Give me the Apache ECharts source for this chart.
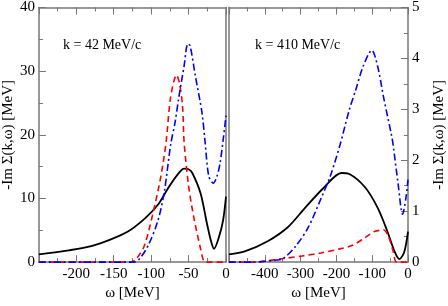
<!DOCTYPE html>
<html><head><meta charset="utf-8">
<script src="https://cdn.jsdelivr.net/npm/echarts@6/dist/echarts.min.js"></script>
<style>html,body{margin:0;padding:0;background:#fff}#c{width:448px;height:306px}</style>
</head><body><div id="c"></div>
<script>
// Left panel: k = 42 MeV/c  [omega (MeV), -Im Sigma (MeV)]
const leftSolid = [[-250,1.2],[-210,1.85],[-180,2.5],[-153,3.6],[-131,4.8],[-109,6.8],[-91,9.0],[-78,11.5],[-65,13.7],[-56,14.7],[-50,14.6],[-45,14.0],[-34,10.8],[-25,5.8],[-20,3.3],[-16,2.1],[-10,3.7],[-4,6.5],[0,10.3]];
const leftDashed = [[-250,0],[-127,0],[-120,0.5],[-109,2.6],[-96,8.5],[-87,13.5],[-80,18.9],[-74,25.9],[-66,29.4],[-62,28.0],[-58,24.4],[-56,18.9],[-50,12],[-43,7],[-34,2.1],[-30,0.2],[-27,0],[0,0]];
const leftDashDot = [[-250,0],[-123,0],[-115,0.6],[-104,2.6],[-91,6.5],[-82.5,11],[-74,18.4],[-68,22],[-63,25.9],[-56,30.8],[-51,34.3],[-48,34],[-41,29.3],[-32,23.4],[-28,18.9],[-23,13.5],[-17,12.4],[-12,13.5],[-8,15.5],[-4,19],[0,23]];
// Right panel: k = 410 MeV/c
const rightSolid = [[-500,0.15],[-456,0.21],[-392,0.41],[-335,0.69],[-287,1.07],[-234,1.47],[-186,1.75],[-164,1.73],[-120,1.47],[-85,1.07],[-59,0.63],[-37,0.2],[-24,0.06],[-10.5,0.2],[0,0.6]];
const rightDashed = [[-500,0],[-430,0],[-410,0.01],[-348,0.07],[-296,0.12],[-243,0.18],[-190,0.26],[-155,0.33],[-120,0.48],[-94,0.6],[-68,0.63],[-55,0.51],[-41,0.2],[-32,0],[0,0]];
const rightDashDot = [[-500,0],[-437,0],[-366,0.04],[-348,0.07],[-313,0.32],[-278,0.69],[-243,1.25],[-217,1.69],[-190,2.3],[-164,2.99],[-147,3.36],[-125,3.85],[-101,4.16],[-85,3.85],[-68,3.23],[-46,2.49],[-41.5,2.3],[-28,1.56],[-15,0.94],[-6,1.25],[0,1.62]];
const labelLeft = 'k = 42 MeV/c';
const labelRight = 'k = 410 MeV/c';
const yTitle = '-Im Σ(k,ω) [MeV]';
const xTitle = 'ω [MeV]';

const FONT = 'Liberation Serif';
const AX = '#777';
function xAx(gi, min, interval, pos, labels) {
  return {
    type:'value', gridIndex:gi, position:pos, min:min, max:0, interval:interval,
    name: labels ? xTitle : '', nameLocation:'middle', nameGap:22,
    nameTextStyle:{fontFamily:FONT,fontSize:15,color:'#000'},
    axisLine:{show:true,onZero:false,lineStyle:{color:AX,width:1.5}},
    axisTick:{show:true,inside:true,length:7,lineStyle:{color:AX,width:1}},
    minorTick:{show:true,splitNumber:2,length:4,lineStyle:{color:AX,width:1}},
    splitLine:{show:false},
    axisLabel:{show:labels,showMinLabel:false,fontFamily:FONT,fontSize:15,color:'#000',margin:4},
  };
}
function yAx(gi, max, interval, pos, labels, ticks, gap) {
  return {
    type:'value', gridIndex:gi, position:pos, min:0, max:max, interval:interval,
    name: labels ? yTitle : '', nameLocation:'middle', nameGap: gap, nameRotate:90,
    nameTextStyle:{fontFamily:FONT,fontSize:15,color:'#000'},
    axisLine:{show:true,onZero:false,lineStyle:{color:AX,width:1.5}},
    axisTick:{show:ticks,inside:true,length:7,lineStyle:{color:AX,width:1}},
    minorTick:{show:ticks,splitNumber:2,length:4,lineStyle:{color:AX,width:1}},
    splitLine:{show:false},
    axisLabel:{show:labels,fontFamily:FONT,fontSize:15,color:'#000',margin:4},
  };
}
function ser(data, xi, yi, color, type, w) {
  return {type:'line', xAxisIndex:xi, yAxisIndex:yi, data:data, symbol:'none', smooth:0.3,
    lineStyle:{color:color,width:w,type:type}, animation:false, clip:true};
}
const chart = echarts.init(document.getElementById('c'));
chart.setOption({
  animation:false,
  backgroundColor:'#fff',
  grid:[{left:36,top:5,width:190,height:269},{left:229,top:5,width:190,height:269}],
  xAxis:[xAx(0,-250,50,'bottom',true), xAx(0,-250,50,'top',false), xAx(1,-500,100,'bottom',true), xAx(1,-500,100,'top',false)],
  yAxis:[yAx(0,40,10,'left',true,true,22), yAx(0,40,10,'right',false,false,0), yAx(1,5,1,'right',true,true,24), yAx(1,5,1,'left',false,false,0)],
  series:[
    ser(leftSolid,0,0,'#000','solid',1.8),
    ser(leftDashed,0,0,'#ff0000',[6,4],1.6),
    ser(leftDashDot,0,0,'#0000ff',[7,3,2,3],1.6),
    ser(rightSolid,2,2,'#000','solid',1.8),
    ser(rightDashed,2,2,'#ff0000',[6,4],1.6),
    ser(rightDashDot,2,2,'#0000ff',[7,3,2,3],1.6),
  ],
  graphic:[
    {type:'text',left:63,top:38,style:{text:labelLeft,font:'14px "Liberation Serif"',fill:'#000'}},
    {type:'text',left:255,top:38,style:{text:labelRight,font:'14px "Liberation Serif"',fill:'#000'}},
  ]
});
</script></body></html>
